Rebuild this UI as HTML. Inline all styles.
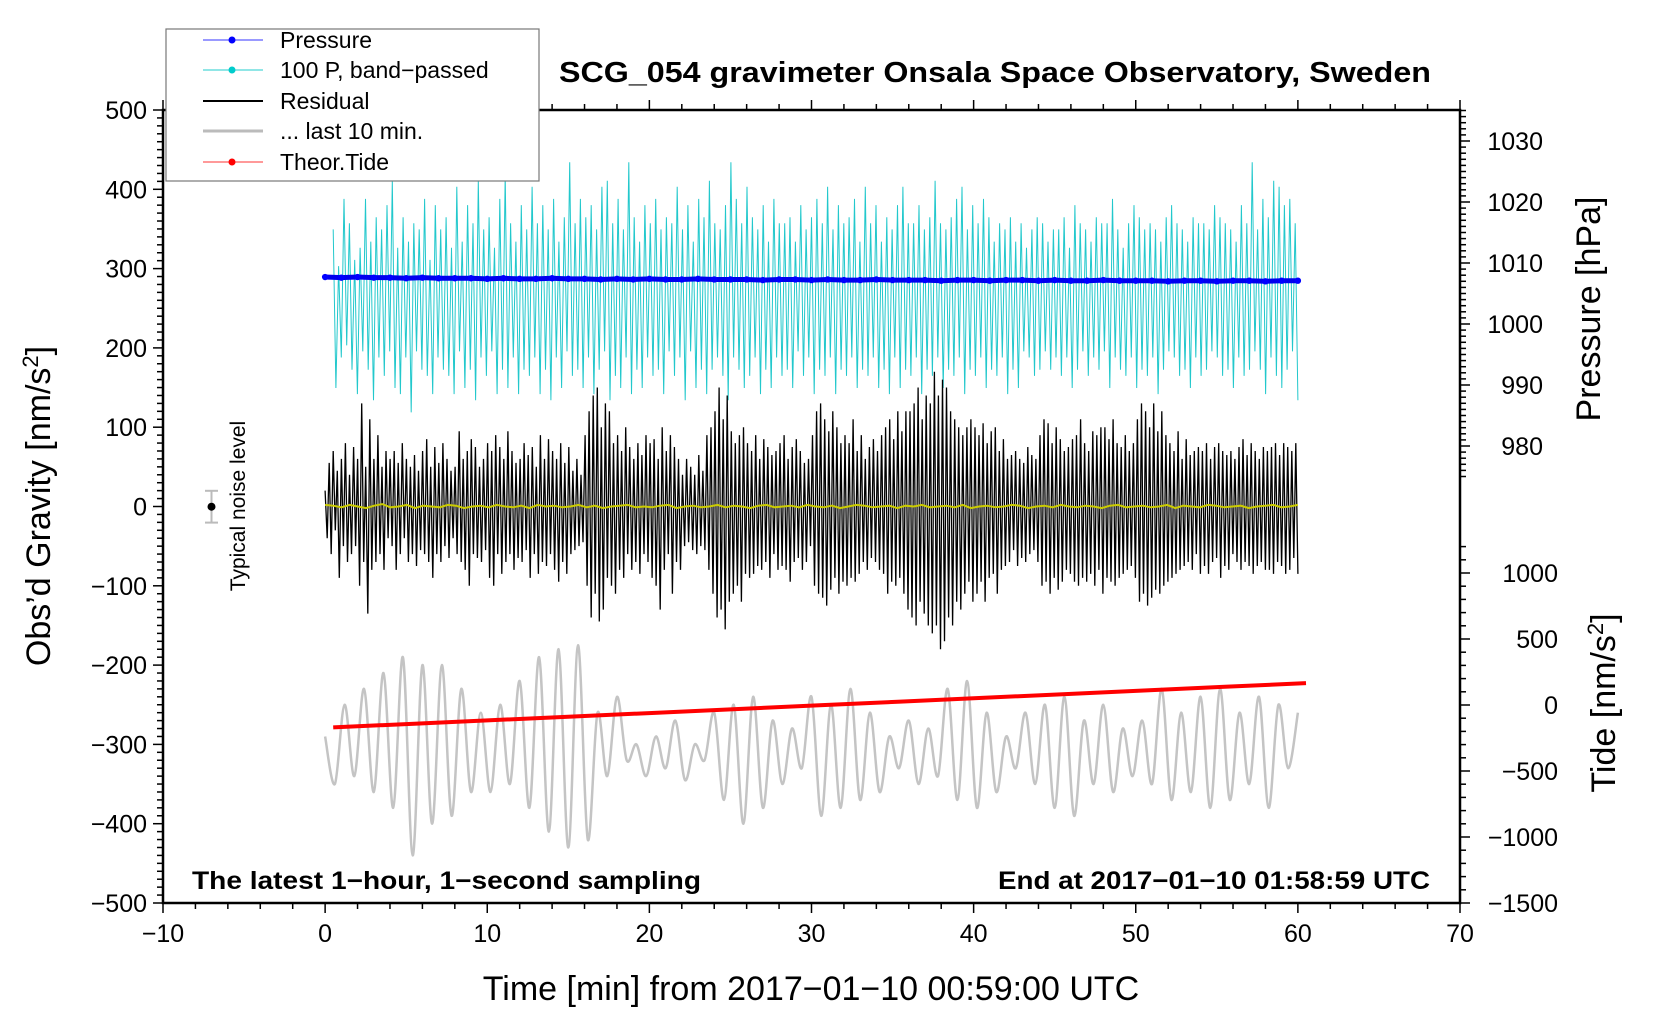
<!DOCTYPE html>
<html><head><meta charset="utf-8"><title>SCG_054 gravimeter</title>
<style>html,body{margin:0;padding:0;background:#fff}svg{display:block;font-family:"Liberation Sans",Arial,sans-serif}</style>
</head><body>
<svg id="chart" width="1660" height="1020" viewBox="0 0 1660 1020" xmlns="http://www.w3.org/2000/svg">
<g id="plot"></g>
<g id="axes"></g>
<g id="legend">
  <rect x="166" y="29" width="373" height="152" fill="#fff" stroke="#777" stroke-width="1.2"/>
  <g><line x1="203" y1="40" x2="263" y2="40" stroke="#3333ff" stroke-width="1"/><circle cx="232" cy="40" r="3.5" fill="#0000ff"/><text x="280" y="48" font-size="23">Pressure</text></g>
  <g><line x1="203" y1="70" x2="263" y2="70" stroke="#22cccc" stroke-width="1"/><circle cx="232" cy="70" r="3.5" fill="#00cccc"/><text x="280" y="78" font-size="23">100 P, band−passed</text></g>
  <g><line x1="203" y1="101" x2="263" y2="101" stroke="#000" stroke-width="2"/><text x="280" y="109" font-size="23">Residual</text></g>
  <g><line x1="203" y1="131" x2="263" y2="131" stroke="#bbb" stroke-width="3"/><text x="280" y="139" font-size="23">... last 10 min.</text></g>
  <g><line x1="203" y1="162" x2="263" y2="162" stroke="#ff3333" stroke-width="1"/><circle cx="232" cy="162" r="3.5" fill="#ff0000"/><text x="280" y="170" font-size="23">Theor.Tide</text></g>
</g>
<text x="559" y="82" font-size="29" font-weight="bold" textLength="872" lengthAdjust="spacingAndGlyphs">SCG_054 gravimeter Onsala Space Observatory, Sweden</text>
<text x="192" y="889" font-size="25" font-weight="bold" textLength="509" lengthAdjust="spacingAndGlyphs">The latest 1−hour, 1−second sampling</text>
<text x="1430" y="889" font-size="25" font-weight="bold" text-anchor="end" textLength="432" lengthAdjust="spacingAndGlyphs">End at 2017−01−10 01:58:59 UTC</text>
<text x="811" y="1000" font-size="34" text-anchor="middle">Time [min] from 2017−01−10 00:59:00 UTC</text>
<text transform="translate(50,506) rotate(-90)" font-size="34" text-anchor="middle">Obs’d Gravity [nm/s<tspan font-size="22" dy="-12">2</tspan><tspan dy="12">]</tspan></text>
<text transform="translate(1600,309) rotate(-90)" font-size="34" text-anchor="middle">Pressure [hPa]</text>
<text transform="translate(1615,703) rotate(-90)" font-size="34" text-anchor="middle">Tide [nm/s<tspan font-size="22" dy="-12">2</tspan><tspan dy="12">]</tspan></text>
<g>
  <line x1="211.5" y1="490.8" x2="211.5" y2="522.6" stroke="#bbb" stroke-width="2"/>
  <line x1="205" y1="490.8" x2="218" y2="490.8" stroke="#bbb" stroke-width="2"/>
  <line x1="205" y1="522.6" x2="218" y2="522.6" stroke="#bbb" stroke-width="2"/>
  <circle cx="211.5" cy="506.7" r="4" fill="#000"/>
  <text transform="translate(245,506) rotate(-90)" font-size="21" text-anchor="middle">Typical noise level</text>
</g>
</svg>
<script>
// ---- data ----
const pressureHpa = [1007.7,1007.6,1007.7,1007.6,1007.6,1007.5,1007.6,1007.5,1007.5,1007.5,1007.4,1007.5,1007.4,1007.4,1007.5,1007.4,1007.4,1007.3,1007.4,1007.3,1007.4,1007.3,1007.3,1007.4,1007.3,1007.3,1007.3,1007.2,1007.3,1007.3,1007.2,1007.3,1007.2,1007.2,1007.3,1007.2,1007.2,1007.2,1007.1,1007.2,1007.2,1007.1,1007.2,1007.2,1007.1,1007.2,1007.1,1007.1,1007.2,1007.1,1007.1,1007.1,1007.0,1007.1,1007.1,1007.0,1007.1,1007.1,1007.0,1007.1,1007.1];
const bandPassed = [
13,-13,7,-8,18,-6, 14,-10,8,-14,10,-7, 18,-10,11,-15,15,-8, 13,-11,17,-7,21,-13, 10,-14,15,-8,11,-17,
14,-7,13,-10,18,-11, 8,-14,17,-8,13,-10, 15,-11,10,-14,20,-7, 11,-13,17,-10,14,-15, 21,-8,13,-11,15,-7,
10,-14,18,-10,22,-13, 14,-8,11,-14,17,-10, 13,-11,20,-8,14,-14, 17,-10,13,-15,18,-8, 11,-13,15,-7,24,-11,
14,-10,18,-13,15,-8, 17,-14,13,-10,20,-7, 21,-15,14,-11,18,-13, 13,-8,24,-14,15,-10, 11,-13,17,-8,14,-11,
18,-10,13,-14,15,-7, 14,-11,20,-8,13,-15, 17,-7,11,-13,18,-10, 15,-14,21,-10,14,-8, 13,-11,17,-15,24,-8,
18,-10,14,-13,20,-11, 15,-8,13,-14,17,-10, 11,-13,18,-8,14,-11, 14,-10,15,-13,11,-7, 17,-11,13,-8,15,-14,
18,-10,14,-11,20,-8, 13,-14,17,-10,14,-11, 15,-8,18,-13,11,-10, 20,-11,14,-8,17,-13, 11,-10,15,-14,13,-8,
17,-13,20,-10,14,-11, 14,-8,17,-14,13,-10, 15,-11,21,-8,14,-13, 13,-10,15,-11,18,-8, 20,-14,13,-10,17,-11,
14,-8,18,-13,15,-10, 11,-11,14,-8,13,-14, 15,-10,11,-13,14,-7, 10,-8,13,-11,15,-10, 14,-7,11,-10,13,-8,
13,-11,15,-8,10,-13, 17,-10,14,-7,13,-11, 11,-8,15,-10,14,-7, 14,-13,18,-8,13,-10, 10,-11,14,-8,17,-13,
15,-10,13,-11,14,-8, 13,-14,11,-10,15,-7, 17,-8,14,-11,13,-10, 11,-13,15,-8,14,-11, 14,-10,13,-7,17,-8,
15,-11,14,-10,13,-13, 11,-8,17,-11,14,-10, 24,-7,13,-10,18,-14, 15,-8,21,-11,20,-13, 17,-10,18,-7,14,-15];
const residual = [
20,-40,55,-60,70,-30,45,-90,60,-50,80,-70,40,-60,75,-50,
60,-100,130,-70,50,-135,110,-80,60,-70,90,-60,50,-80,70,-40,
60,-50,70,-80,55,-60,80,-40,60,-70,50,-60,65,-75,45,-55,
70,-60,85,-70,50,-90,75,-60,55,-70,80,-50,60,-65,45,-40,
50,-60,95,-70,60,-80,70,-100,85,-60,75,-65,50,-70,60,-55,
80,-90,70,-100,90,-60,75,-85,60,-70,95,-60,70,-80,55,-65,
60,-70,80,-55,65,-90,75,-60,50,-85,90,-70,60,-75,85,-60,
70,-80,60,-95,80,-70,55,-85,75,-60,45,-55,60,-50,40,-45,
90,-100,120,-140,140,-110,150,-145,100,-130,130,-90,120,-100,80,-110,
90,-80,70,-90,100,-60,75,-80,60,-70,80,-85,65,-60,90,-70,
80,-90,85,-100,60,-130,100,-80,70,-60,90,-110,75,-70,60,-80,
40,-50,60,-45,50,-55,40,-60,65,-50,45,-55,90,-80,100,-110,
120,-140,150,-130,110,-155,140,-120,95,-110,80,-100,90,-120,100,-85,
80,-90,70,-85,90,-75,60,-80,85,-70,75,-90,65,-60,70,-80,
80,-75,90,-80,60,-95,75,-70,85,-65,70,-80,55,-70,60,-50,
90,-100,120,-110,130,-115,110,-125,95,-105,120,-90,100,-110,80,-95,
90,-100,80,-90,110,-95,70,-85,90,-70,60,-80,75,-65,85,-70,
70,-80,90,-85,100,-110,110,-95,85,-100,120,-90,95,-110,120,-130,
120,-140,130,-150,150,-120,110,-135,140,-150,130,-160,170,-150,140,-180,
160,-170,150,-140,120,-150,110,-120,100,-130,90,-110,100,-95,110,-120,
100,-110,90,-95,105,-120,80,-90,95,-85,100,-110,70,-80,85,-75,
60,-70,65,-55,70,-75,60,-65,55,-70,75,-60,65,-55,60,-70,
90,-100,110,-95,105,-110,80,-90,100,-105,85,-95,70,-80,75,-85,
85,-95,90,-100,110,-90,80,-95,70,-85,95,-100,90,-80,100,-110,
100,-90,85,-95,110,-100,80,-90,75,-85,90,-80,70,-75,80,-90,
110,-120,130,-110,120,-125,100,-115,130,-105,95,-110,120,-100,90,-95,
80,-90,70,-85,95,-80,60,-75,85,-70,65,-80,70,-60,75,-85,
70,-75,80,-85,60,-70,75,-65,80,-90,70,-75,65,-80,70,-60,
60,-70,75,-80,85,-70,65,-75,80,-85,70,-75,60,-70,75,-80,
70,-80,75,-85,80,-70,65,-75,80,-85,75,-80,70,-65,80,-85];
const smoothResidual = [2,1,-1,2,0,-2,1,3,-1,0,2,-2,1,0,-1,2,1,-2,0,1,-1,2,0,-1,1,-2,2,0,1,-1,0,2,-1,1,-2,0,1,2,-1,0,-1,1,2,-2,0,1,-1,0,2,-1,1,0,-2,1,2,-1,0,1,-1,2,0,-1,1,-2,0,2,1,-1,0,1,-2,1,0,2,-1,0,1,-1,2,-2,0,1,-1,0,2,1,-2,0,1,-1,2,0,-1,1,0,-2,1,2,-1,0,1,-1,0,2,-2,1,0,-1,2,1,-1,0,1,-2,0,1,2,-1,0,2];
const lastTenMin = [
-290,-350,-250,-340,-230,-360,-210,-380,-190,-440,
-200,-400,-200,-390,-230,-360,-260,-360,-250,-350,
-220,-380,-190,-410,-180,-430,-175,-420,-260,-340,
-240,-320,-300,-340,-290,-330,-270,-345,-300,-320,
-260,-370,-250,-400,-240,-380,-270,-350,-280,-330,
-240,-390,-250,-380,-230,-370,-260,-360,-290,-330,
-270,-350,-280,-340,-230,-370,-220,-380,-260,-360,
-290,-330,-260,-350,-250,-380,-240,-390,-270,-350,
-250,-360,-280,-340,-270,-350,-230,-370,-260,-360,
-240,-380,-230,-370,-260,-350,-240,-380,-250,-330,-260];
const tideTimes = [0.5,5.5,10.5,15.5,20.5,25.5,30.5,35.5,40.5,45.5,50.5,55.5,60.5];
const tideValues = [-170,-142,-114,-86,-58,-30,-2,26,54,82,110,138,166];
const xTicks = [-10,0,10,20,30,40,50,60,70];
const yTicks = [-500,-400,-300,-200,-100,0,100,200,300,400,500];
const pTicks = [980,990,1000,1010,1020,1030];
const tTicks = [-1500,-1000,-500,0,500,1000];

// ---- scales ----
const L=163,R=1460,T=110,B=903;
const X=t=>L+(t+10)/80*(R-L);
const Y=g=>B-(g+500)/1000*(B-T);
const P=h=>141+(1030-h)*6.1;
const TD=v=>903-(v+1500)*0.132;
const NS='http://www.w3.org/2000/svg';
const plot=document.getElementById('plot'), axes=document.getElementById('axes');
function mk(tag,parent,attrs){const e=document.createElementNS(NS,tag);for(const k in attrs)e.setAttribute(k,attrs[k]);parent.appendChild(e);return e;}

// cyan band-passed pressure
let d='';const cStep=59.5/(bandPassed.length-1);
bandPassed.forEach((v,i)=>{d+=(i?'L':'M')+X(0.5+i*cStep).toFixed(1)+' '+P(1002.5+v).toFixed(1);});
const cy=mk('path',plot,{d:d,fill:'none',stroke:'#22c8cc','stroke-width':1});



// residual
d='';const rStep=60/(residual.length-1);
residual.forEach((v,i)=>{d+=(i?'L':'M')+X(i*rStep).toFixed(1)+' '+Y(v).toFixed(1);});
const rs=mk('path',plot,{d:d,fill:'none',stroke:'#000','stroke-width':1.3});



// smoothed residual (yellow)
d='';const sStep=60/(smoothResidual.length-1);
smoothResidual.forEach((v,i)=>{d+=(i?'L':'M')+X(i*sStep).toFixed(1)+' '+Y(v).toFixed(1);});
const ys=mk('path',plot,{d:d,fill:'none',stroke:'#cccc00','stroke-width':2});



// pressure
d='';const pStep=60/(pressureHpa.length-1);
pressureHpa.forEach((v,i)=>{d+=(i?'L':'M')+X(i*pStep).toFixed(1)+' '+P(v).toFixed(1);});
const pl=mk('path',plot,{d:d,fill:'none',stroke:'#0000ee','stroke-width':5,'stroke-linecap':'round'});


pressureHpa.forEach((v,i)=>{const c=mk('circle',plot,{cx:X(i*pStep),cy:P(v),r:3.2,fill:'#0000ff'});

});

// last 10 min (gray, smooth)
const gStep=60/(lastTenMin.length-1);
const gp=lastTenMin.map((v,i)=>[X(i*gStep),Y(v)]);
d='M'+gp[0][0].toFixed(1)+' '+gp[0][1].toFixed(1);
for(let i=0;i<gp.length-1;i++){const p0=gp[Math.max(0,i-1)],p1=gp[i],p2=gp[i+1],p3=gp[Math.min(gp.length-1,i+2)];
d+='C'+(p1[0]+(p2[0]-p0[0])/6).toFixed(1)+' '+(p1[1]+(p2[1]-p0[1])/6).toFixed(1)+' '+(p2[0]-(p3[0]-p1[0])/6).toFixed(1)+' '+(p2[1]-(p3[1]-p1[1])/6).toFixed(1)+' '+p2[0].toFixed(1)+' '+p2[1].toFixed(1);}
const gl=mk('path',plot,{d:d,fill:'none',stroke:'#c4c4c4','stroke-width':2.5});



// tide
d='';tideValues.forEach((v,i)=>{d+=(i?'L':'M')+X(tideTimes[i]).toFixed(1)+' '+TD(v).toFixed(1);});
const tl=mk('path',plot,{d:d,fill:'none',stroke:'#ff0000','stroke-width':4});



// ---- axes ----
const frame=mk('rect',axes,{x:L,y:T,width:R-L,height:B-T,fill:'none',stroke:'#000','stroke-width':2.5});


function tick(x1,y1,x2,y2,w){mk('line',axes,{x1:x1,y1:y1,x2:x2,y2:y2,stroke:'#000','stroke-width':w||1.5});}
for(let t=-10;t<=70;t+=2){const maj=t%10===0,len=maj?10:6;tick(X(t),B,X(t),B+len);tick(X(t),T,X(t),T-len);}
for(let g=-500;g<=500;g+=10){const maj=g%100===0;tick(L,Y(g),L-(maj?10:6),Y(g));}
for(let h=975;h<=1035;h++){const maj=h%10===0;tick(R,P(h),R+(maj?10:6),P(h));}
for(let v=-1500;v<=1200;v+=100){const maj=v%500===0;tick(R,TD(v),R+(maj?10:6),TD(v));}
function label(x,y,txt,anchor,name){const e=mk('text',axes,{x:x,y:y,'font-size':25,'text-anchor':anchor});e.textContent=txt;

}
xTicks.forEach(t=>label(X(t),942,String(t).replace('-','−'),'middle','x-tick-label'));
yTicks.forEach(g=>label(L-16,Y(g)+9,String(g).replace('-','−'),'end','y-tick-label'));
pTicks.forEach(h=>label(1543,P(h)+9,String(h),'end','pressure-tick-label'));
tTicks.forEach(v=>label(1558,TD(v)+9,String(v).replace('-','−'),'end','tide-tick-label'));
</script>
</body></html>
